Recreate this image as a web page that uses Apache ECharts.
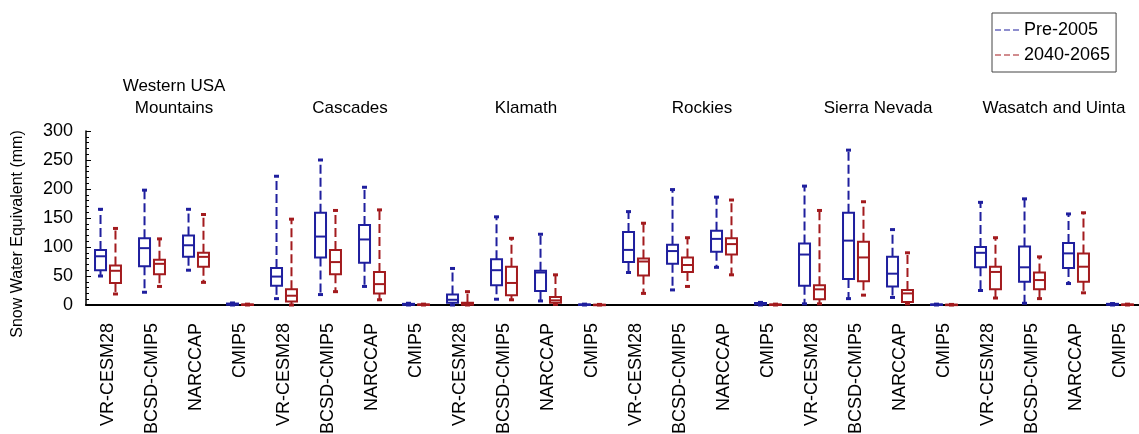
<!DOCTYPE html>
<html>
<head>
<meta charset="utf-8">
<script src="https://cdn.jsdelivr.net/npm/echarts@6/dist/echarts.min.js"></script>
<style>html,body{margin:0;padding:0;background:#fff;}#c{width:1139px;height:434px;}</style>
</head>
<body>
<div id="c"></div>
<script>
const categories = [
  'VR-CESM28','BCSD-CMIP5','NARCCAP','CMIP5',
  'VR-CESM28','BCSD-CMIP5','NARCCAP','CMIP5',
  'VR-CESM28','BCSD-CMIP5','NARCCAP','CMIP5',
  'VR-CESM28','BCSD-CMIP5','NARCCAP','CMIP5',
  'VR-CESM28','BCSD-CMIP5','NARCCAP','CMIP5',
  'VR-CESM28','BCSD-CMIP5','NARCCAP','CMIP5'
];
const regions = ['Western USA\nMountains','Cascades','Klamath','Rockies','Sierra Nevada','Wasatch and Uinta'];
const yTicks = { min: 0, max: 300, interval: 50 };
// [min, q1, median, q3, max]
const pre2005 = [
  [50,60,84,95,165],[22,67,98,115,198],[60,83,103,120,165],[0,0.5,1.5,2.5,3.5],
  [11,33,49,64,222],[18,82,118,159,250],[32,73,113,138,203],[0,0.3,1,2,3],
  [0,4,9,18,63],[10,34,60,79,152],[7,24,56,59,122],[0,0,0.5,1,1.5],
  [56,74,95,126,161],[26,71,93,104,199],[65,92,114,128,186],[0,1,2,3.5,4.5],
  [2,33,87,106,205],[11,45,111,159,267],[13,32,54,83,130],[0,0,0.5,1,1.5],
  [25,65,90,100,177],[3,40,65,101,183],[37,64,89,107,157],[0,0.5,1,2,2.5]
];
const future2040 = [
  [19,38,59,68,132],[32,53,71,78,114],[39,66,83,90,156],[0,0,0.5,1,1.5],
  [0,6,16,27,148],[23,53,74,95,163],[9,20,36,57,164],[0,0,0.5,1,1.5],
  [0,0.5,2,4,23],[9,17,38,66,115],[1,4,8,14,52],[0,0,0.2,0.5,1],
  [20,51,75,80,141],[32,57,69,82,116],[52,87,105,115,181],[0,0,0.5,1,1.5],
  [2,10,27,34,163],[17,41,82,109,178],[2,5,20,26,90],[0,0,0.3,0.6,1],
  [12,27,57,66,116],[11,27,43,56,83],[21,40,66,89,159],[0,0,0.5,1,1.5]
];
const seriesNames = ['Pre-2005','2040-2065'];
const colors = ['#1f1f9e','#a31b1e'];

function makeRender(side, color) {
  return function (params, api) {
    const i = api.value(0);
    const band = api.size([1, 0])[0];
    const cx = api.coord([i, 0])[0] + side * band * 0.17;
    const y = [1,2,3,4,5].map(k => api.coord([i, api.value(k)])[1]);
    const w = band * 0.25;
    const solid = { stroke: color, lineWidth: 2, fill: null };
    const dashed = { stroke: color, lineWidth: 2, lineDash: [9, 4], fill: null };
    const cap = { stroke: color, lineWidth: 3, fill: null };
    return {
      type: 'group',
      children: [
        { type: 'line', shape: { x1: cx, y1: y[3], x2: cx, y2: y[4] }, style: dashed },
        { type: 'line', shape: { x1: cx, y1: y[1], x2: cx, y2: y[0] }, style: dashed },
        { type: 'line', shape: { x1: cx - 2.5, y1: y[4], x2: cx + 2.5, y2: y[4] }, style: cap },
        { type: 'line', shape: { x1: cx - 2.5, y1: y[0], x2: cx + 2.5, y2: y[0] }, style: cap },
        { type: 'rect', shape: { x: cx - w / 2, y: y[3], width: w, height: Math.max(y[1] - y[3], 0.5) }, style: { stroke: color, lineWidth: 2, fill: '#fff' } },
        { type: 'line', shape: { x1: cx - w / 2, y1: y[2], x2: cx + w / 2, y2: y[2] }, style: solid }
      ]
    };
  };
}

function toData(arr) { return arr.map((v, i) => [i].concat(v)); }

const chart = echarts.init(document.getElementById('c'), null, { renderer: 'canvas' });
const font = 'Liberation Sans, Arial, sans-serif';
chart.setOption({
  animation: false,
  textStyle: { fontFamily: font, color: '#000' },
  grid: { left: 86, top: 131, width: 1056, height: 174, containLabel: false, outerBoundsMode: 'none' },
  legend: {
    orient: 'vertical',
    left: 992, top: 13,
    data: seriesNames,
    icon: 'path://M0,0h6v1h-6z M9,0h6v1h-6z M18,0h6v1h-6z',
    itemWidth: 24, itemHeight: 1.5, itemGap: 7,
    textStyle: { fontSize: 18, color: '#000', fontFamily: font },
    borderColor: '#444', borderWidth: 1,
    padding: [8, 6, 8, 3]
  },
  xAxis: [
    {
      type: 'category', data: categories, position: 'bottom',
      axisLine: { lineStyle: { color: '#000', width: 2 } },
      axisTick: { show: false },
      axisLabel: { rotate: 90, interval: 0, fontSize: 18, margin: 18, color: '#000', fontFamily: font },
      splitLine: { show: false }
    },
    {
      type: 'category', data: regions, position: 'top',
      axisLine: { show: false }, axisTick: { show: false },
      axisLabel: { interval: 0, fontSize: 17, margin: 12, color: '#000', fontFamily: font, lineHeight: 22 },
      splitLine: { show: false }
    }
  ],
  yAxis: {
    type: 'value', min: yTicks.min, max: yTicks.max, interval: yTicks.interval,
    axisLine: { show: true, lineStyle: { color: '#000', width: 1.5 } },
    axisTick: { show: true, inside: true, length: 5, lineStyle: { color: '#000' } },
    minorTick: { show: true, splitNumber: 5, length: 3, lineStyle: { color: '#000' } },
    axisLabel: { fontSize: 18, margin: 13, color: '#000', fontFamily: font },
    splitLine: { show: false }
  },
  graphic: [{
    type: 'text', x: 18, y: 234, rotation: Math.PI / 2,
    style: { text: 'Snow Water Equivalent (mm)', fontSize: 16, fontFamily: font, fill: '#000', textAlign: 'center', textVerticalAlign: 'middle' }
  }],
  series: [
    { name: seriesNames[0], type: 'custom', xAxisIndex: 0, itemStyle: { color: colors[0] },
      renderItem: makeRender(-1, colors[0]), encode: { x: 0, y: [1,2,3,4,5] }, data: toData(pre2005) },
    { name: seriesNames[1], type: 'custom', xAxisIndex: 0, itemStyle: { color: colors[1] },
      renderItem: makeRender(1, colors[1]), encode: { x: 0, y: [1,2,3,4,5] }, data: toData(future2040) }
  ]
});
</script>
</body>
</html>
